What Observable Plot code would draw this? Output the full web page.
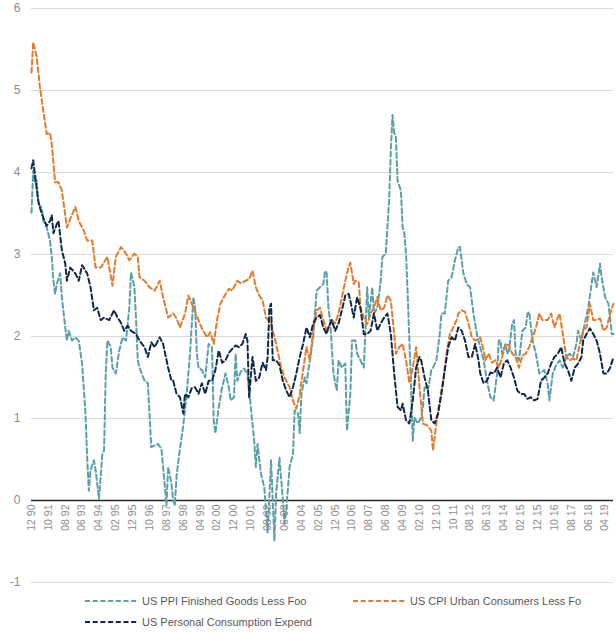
<!DOCTYPE html>
<html><head><meta charset="utf-8">
<script src="https://cdn.jsdelivr.net/npm/d3@7"></script>
<script src="https://cdn.jsdelivr.net/npm/@observablehq/plot@0.6"></script>
<style>
body{margin:0;background:#fff;font-family:"Liberation Sans",Arial,sans-serif;}
#wrap{position:relative;width:616px;height:632px;}
.leg{position:absolute;display:flex;align-items:center;font-size:11px;color:#595959;white-space:nowrap;height:14px;}
.leg svg{margin-right:3px;display:block}
</style></head><body><div id="wrap"></div>
<script>
// Months counted from Dec 1990 (0 = 12/1990)
const seriesNames = ["US PPI Finished Goods Less Foo", "US CPI Urban Consumers Less Fo", "US Personal Consumption Expend"];
const seriesColors = ["#5b9fa7", "#e07b2f", "#0e2845"];

const ppiMonths = [0,1,2,3,4,6,7,9,11,12,13,14,15,17,18,20,21,22,24,26,28,30,32,33,34,35,37,38,40,42,43,44,45,47,48,50,52,54,56,58,59,61,62,63,64,67,69,71,73,75,77,79,80,81,83,84,85,86,88,90,92,94,96,97,98,99,101,103,104,105,107,108,109,111,113,115,117,118,120,121,122,124,126,128,130,132,133,134,136,138,139,140,142,144,145,147,149,150,151,153,155,156,158,159,160,162,163,165,167,169,171,173,174,175,176,177,179,181,182,184,186,187,189,190,192,193,195,197,199,200,202,203,205,207,208,210,212,213,214,215,216,217,219,220,221,222,223,224,225,226,227,229,231,232,233,235,237,238,240,242,243,245,247,249,251,253,254,256,258,260,262,264,266,268,270,272,274,276,277,278,279,281,282,283,285,286,287,289,291,293,294,295,297,299,301,302,304,306,307,309,311,313,315,317,319,321,323,324,326,328,330,332,333,335,337,338,340,342,344,345];
const ppiValues = [3.51,4.02,3.87,3.9,3.62,3.57,3.41,3.33,3.17,2.97,2.68,2.52,2.64,2.77,2.48,2.11,1.95,2.07,1.95,1.99,1.95,1.67,1.06,0.52,0.12,0.37,0.49,0.37,0.02,0.57,0.61,1.55,1.95,1.87,1.62,1.55,1.83,1.99,1.95,2.35,2.78,2.6,2.2,1.71,1.62,1.46,1.43,0.65,0.67,0.69,0.63,0.18,-0.06,0.41,0.2,0.0,-0.06,0.3,0.63,0.92,1.3,1.8,2.48,2.35,1.8,1.62,1.59,1.5,1.71,1.91,1.87,0.98,0.82,1.14,1.38,1.55,1.38,1.22,1.26,1.79,1.46,1.57,1.61,1.55,1.14,0.73,0.41,0.69,0.33,0.16,-0.12,-0.39,0.49,-0.49,0.08,0.52,0.0,-0.28,-0.12,0.41,0.57,1.1,1.06,0.82,1.3,1.5,1.43,1.71,1.99,2.56,2.6,2.64,2.8,2.77,2.35,2.2,1.55,1.34,1.71,1.62,1.67,0.85,1.3,1.95,1.95,1.79,1.71,1.62,2.6,2.23,2.6,2.28,2.35,2.68,2.97,3.01,3.66,4.27,4.7,4.48,4.43,3.9,3.78,3.33,3.26,3.01,2.52,1.95,1.38,0.73,1.01,0.94,1.01,1.14,1.38,1.34,1.59,1.62,1.71,2.03,2.28,2.28,2.68,2.72,2.93,3.09,3.09,2.77,2.64,2.6,2.28,2.03,1.87,1.71,1.46,1.26,1.22,1.55,1.95,1.95,1.79,1.91,1.79,1.83,2.16,2.2,1.79,1.71,2.07,2.11,2.28,2.3,1.95,1.79,1.55,1.56,1.59,1.42,1.22,1.55,1.65,1.71,1.62,1.75,1.79,1.75,1.91,2.07,1.95,2.16,2.35,2.64,2.78,2.6,2.89,2.72,2.48,2.4,2.03,2.03];

const cpiMonths = [0,1,3,5,7,9,11,12,14,16,18,21,23,26,28,31,33,36,38,41,45,48,50,53,56,58,61,63,64,67,70,73,76,78,81,84,86,88,91,93,96,99,101,104,106,108,110,112,114,117,119,122,124,127,129,131,133,135,137,139,142,145,148,150,153,155,157,159,161,163,165,167,169,171,173,175,176,178,180,182,184,186,188,189,191,192,194,195,197,199,201,203,205,207,209,211,213,215,216,218,220,222,224,226,228,230,232,235,237,238,240,242,244,246,248,250,252,253,255,257,259,261,263,266,268,269,271,273,275,277,279,281,283,285,287,289,291,293,295,297,299,301,303,306,308,310,312,313,315,317,319,321,323,325,327,329,331,333,335,337,339,341,343,345];
const cpiValues = [5.22,5.59,5.42,5.04,4.75,4.47,4.48,4.35,3.88,3.88,3.78,3.33,3.44,3.58,3.41,3.29,3.17,3.17,2.84,2.84,2.97,2.62,2.97,3.09,3.01,2.93,3.01,2.97,2.72,2.68,2.6,2.56,2.68,2.48,2.23,2.28,2.22,2.11,2.28,2.5,2.35,2.2,2.1,1.99,2.05,1.91,2.2,2.4,2.48,2.58,2.56,2.68,2.65,2.68,2.7,2.8,2.6,2.5,2.44,2.23,2.16,1.91,1.62,1.5,1.38,1.22,1.12,1.3,1.59,1.87,1.71,2.07,2.32,2.35,2.2,2.07,2.11,2.2,2.16,2.28,2.48,2.68,2.85,2.9,2.64,2.68,2.66,2.35,2.23,2.15,2.28,2.35,2.48,2.32,2.35,2.5,2.44,2.03,1.79,1.87,1.91,1.71,1.43,1.62,1.87,1.38,0.94,0.91,0.85,0.61,0.94,1.22,1.46,1.79,2.03,2.11,2.2,2.28,2.32,2.3,2.16,1.99,1.95,1.99,1.83,1.71,1.79,1.68,1.71,1.62,1.75,1.91,1.89,1.79,1.75,1.62,1.77,1.79,1.87,1.99,2.1,2.28,2.2,2.2,2.28,2.11,2.23,2.28,2.03,1.75,1.71,1.73,1.71,1.91,2.07,2.11,2.4,2.2,2.2,2.22,2.07,2.11,2.28,2.4];

const pceMonths = [0,1,3,4,5,7,9,11,12,13,15,16,18,20,21,23,26,28,30,33,35,37,39,41,43,46,49,51,53,55,57,59,62,64,67,69,71,73,76,78,81,83,84,86,88,90,91,93,95,97,99,101,103,105,107,109,111,113,115,117,119,121,123,125,127,128,129,131,133,135,137,139,140,141,142,143,145,147,149,151,153,155,157,159,161,163,165,167,169,171,173,175,176,178,180,182,184,186,188,189,191,193,195,197,199,201,203,205,207,209,211,213,215,217,219,220,222,224,226,228,230,231,233,235,237,239,241,243,245,247,249,251,253,255,257,259,261,263,265,266,268,270,272,274,276,278,280,282,284,286,288,290,292,294,296,298,300,302,304,306,308,310,312,314,316,318,320,322,324,326,327,329,331,333,335,337,339,341,343,345];
const pceValues = [4.05,4.15,3.82,3.66,3.57,3.45,3.35,3.41,3.48,3.26,3.37,3.41,3.05,2.89,2.68,2.84,2.77,2.68,2.87,2.77,2.6,2.32,2.35,2.2,2.23,2.2,2.32,2.23,2.17,2.07,2.13,2.07,2.03,1.95,1.87,1.75,1.93,1.87,1.99,1.91,1.62,1.46,1.46,1.3,1.26,1.06,1.3,1.26,1.37,1.38,1.3,1.43,1.3,1.46,1.46,1.59,1.83,1.68,1.71,1.8,1.85,1.89,1.87,1.91,2.03,1.95,1.26,1.75,1.46,1.5,1.68,1.59,1.75,2.35,2.4,1.71,1.71,1.65,1.46,1.34,1.26,1.38,1.55,1.75,1.91,2.11,1.99,2.16,2.23,2.26,2.11,2.03,2.11,2.2,2.07,2.16,2.32,2.5,2.52,2.44,2.23,2.48,2.35,2.03,2.03,2.07,2.28,2.07,2.16,2.23,2.28,2.03,1.55,1.14,1.1,1.18,0.98,0.94,1.22,1.62,1.75,1.71,1.5,1.34,0.98,0.94,1.06,1.3,1.59,1.87,1.99,1.95,2.11,2.07,1.95,1.75,1.75,1.91,1.71,1.55,1.43,1.46,1.56,1.55,1.62,1.5,1.67,1.71,1.62,1.5,1.34,1.3,1.3,1.24,1.26,1.22,1.24,1.46,1.5,1.55,1.67,1.75,1.79,1.87,1.67,1.59,1.46,1.62,1.67,1.75,1.95,2.03,2.1,2.03,1.95,1.79,1.55,1.55,1.62,1.75];

const yTicks = [-1, 0, 1, 2, 3, 4, 5, 6];
const tickLabels = ["12 90","10 91","08 92","06 93","04 94","02 95","12 95","10 96","08 97","06 98","04 99","02 00","12 00","10 01","08 02","06 03","04 04","02 05","12 05","10 06","08 07","06 08","04 09","02 10","12 10","10 11","08 12","06 13","04 14","02 15","12 15","10 16","08 17","06 18","04 19"];
const tickStep = 10; // months between labels

const toRows = (months, values) => months.map((m, i) => ({m, v: values[i]}));
const series = [
  toRows(ppiMonths, ppiValues),
  toRows(cpiMonths, cpiValues),
  toRows(pceMonths, pceValues)
];
const ticks = tickLabels.map((t, i) => ({m: i * tickStep, label: t}));

const chart = Plot.plot({
  width: 616,
  height: 590,
  marginLeft: 31,
  marginRight: 3,
  marginTop: 8,
  marginBottom: 8,
  style: {fontFamily: "'Liberation Sans', Arial, sans-serif", background: "#fff"},
  x: {type: "linear", domain: [0, 345], axis: null},
  y: {domain: [-1, 6], axis: null},
  marks: [
    Plot.gridY(yTicks, {stroke: "#d9d9d9", strokeOpacity: 1, strokeWidth: 1}),
    Plot.axisY(yTicks, {tickSize: 0, tickPadding: 11, fontSize: 12, fill: "#8c8c8c", label: null,
      tickFormat: d => d < 0 ? "-" + Math.abs(d) : String(d)}),
    Plot.ruleY([0], {stroke: "#262626", strokeWidth: 1.5}),
    ...series.map((rows, k) => Plot.line(rows, {x: "m", y: "v", stroke: seriesColors[k], strokeWidth: 2, strokeDasharray: "5,3"})),
    Plot.text(ticks, {x: "m", y: () => 0, text: "label", rotate: -90, textAnchor: "end", dy: 4, fontSize: 10.5, fill: "#8c8c8c"})
  ]
});
const wrap = document.getElementById("wrap");
wrap.appendChild(chart);

const legendPos = [[85, 594], [353, 594], [85, 615]];
seriesNames.forEach((name, k) => {
  const d = document.createElement("div");
  d.className = "leg";
  d.style.left = legendPos[k][0] + "px";
  d.style.top = legendPos[k][1] + "px";
  d.innerHTML = `<svg width="54" height="4"><line x1="0" y1="2" x2="54" y2="2" stroke="${seriesColors[k]}" stroke-width="2" stroke-dasharray="5,2.7"/></svg><span>${name}</span>`;
  wrap.appendChild(d);
});
</script></body></html>
